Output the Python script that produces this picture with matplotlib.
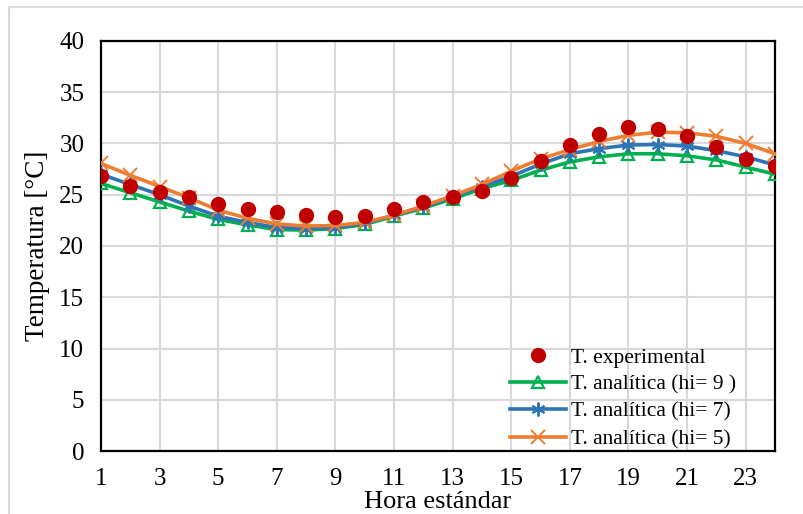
import matplotlib
matplotlib.use("Agg")
import matplotlib.pyplot as plt
from matplotlib.patches import Rectangle

plt.rcParams['font.family'] = ['Liberation Serif', 'DejaVu Serif']

hours = list(range(1, 25))
t_exp = [26.8, 25.9, 25.3, 24.8, 24.1, 23.6, 23.35, 23.0, 22.8, 22.9, 23.6, 24.3,
         24.8, 25.4, 26.6, 28.3, 29.9, 30.9, 31.6, 31.4, 30.7, 29.7, 28.5, 27.8]
t_hi9 = [26.1, 25.2, 24.3, 23.4, 22.6, 22.05, 21.6, 21.55, 21.7, 22.1, 22.9, 23.7,
         24.6, 25.6, 26.4, 27.4, 28.2, 28.7, 29.0, 29.0, 28.8, 28.4, 27.7, 27.0]
t_hi7 = [27.0, 26.0, 25.0, 23.9, 22.9, 22.3, 21.8, 21.7, 21.8, 22.2, 23.0, 23.8,
         24.8, 25.8, 26.8, 28.0, 29.0, 29.5, 29.85, 29.9, 29.75, 29.3, 28.7, 27.9]
t_hi5 = [28.05, 26.9, 25.8, 24.7, 23.5, 22.7, 22.15, 21.95, 22.0, 22.3, 23.0, 23.9,
         24.9, 26.0, 27.3, 28.5, 29.4, 30.2, 30.8, 31.1, 31.05, 30.7, 30.0, 29.0]
x_ticks = list(range(1, 24, 2))
y_ticks = list(range(0, 41, 5))

W, H = 804, 514
fig = plt.figure(figsize=(W / 100, H / 100), dpi=100)
fig.patches.append(Rectangle((9 / W, -0.1), 1.2, (H - 7) / H + 0.1,
                             transform=fig.transFigure, fill=False,
                             edgecolor='#d9d9d9', linewidth=1.5))

ax = fig.add_axes([101 / W, (H - 451) / H, 674 / W, 410 / H])

ax.plot(hours, t_hi9, color='#00B050', lw=2.6, marker='^', ms=9,
        mfc='none', mec='#00B050', mew=1.6, label='T. analítica (hi= 9 )', zorder=3)
ax.plot(hours, t_hi7, color='#2E75B6', lw=2.6, marker=(6, 2, 0), ms=10,
        mec='#2E75B6', mew=1.4, label='T. analítica (hi= 7)', zorder=4)
ax.plot(hours, t_hi5, color='#ED7D31', lw=2.6, marker='x', ms=10,
        mec='#ED7D31', mew=1.4, label='T. analítica (hi= 5)', zorder=5)
ax.plot(hours, t_exp, linestyle='none', marker='o', ms=10,
        color='#C00000', label='T. experimental', zorder=6)

ax.set_xlim(1, 24)
ax.set_ylim(0, 40)
ax.set_xticks(x_ticks)
ax.set_yticks(y_ticks)
ax.tick_params(length=0, labelsize=18)
ax.tick_params(axis='y', pad=12)
ax.tick_params(axis='x', pad=12)
ax.grid(True, color='#d9d9d9', linewidth=1.5)
ax.set_axisbelow(True)
for s in ax.spines.values():
    s.set_linewidth(1.6)
    s.set_color('black')

ax.set_ylabel('Temperatura [°C]', fontsize=19.5, labelpad=7)
ax.set_xlabel('Hora estándar', fontsize=19, labelpad=1)

handles, labels = ax.get_legend_handles_labels()
order = [3, 0, 1, 2]
ax.legend([handles[i] for i in order], [labels[i] for i in order],
          loc='lower right', bbox_to_anchor=(0.964, -0.032), frameon=False,
          fontsize=15.5, handlelength=2.6, handletextpad=0.2,
          labelspacing=0.33, borderaxespad=0.3)

fig.savefig('out.png', dpi=100)
